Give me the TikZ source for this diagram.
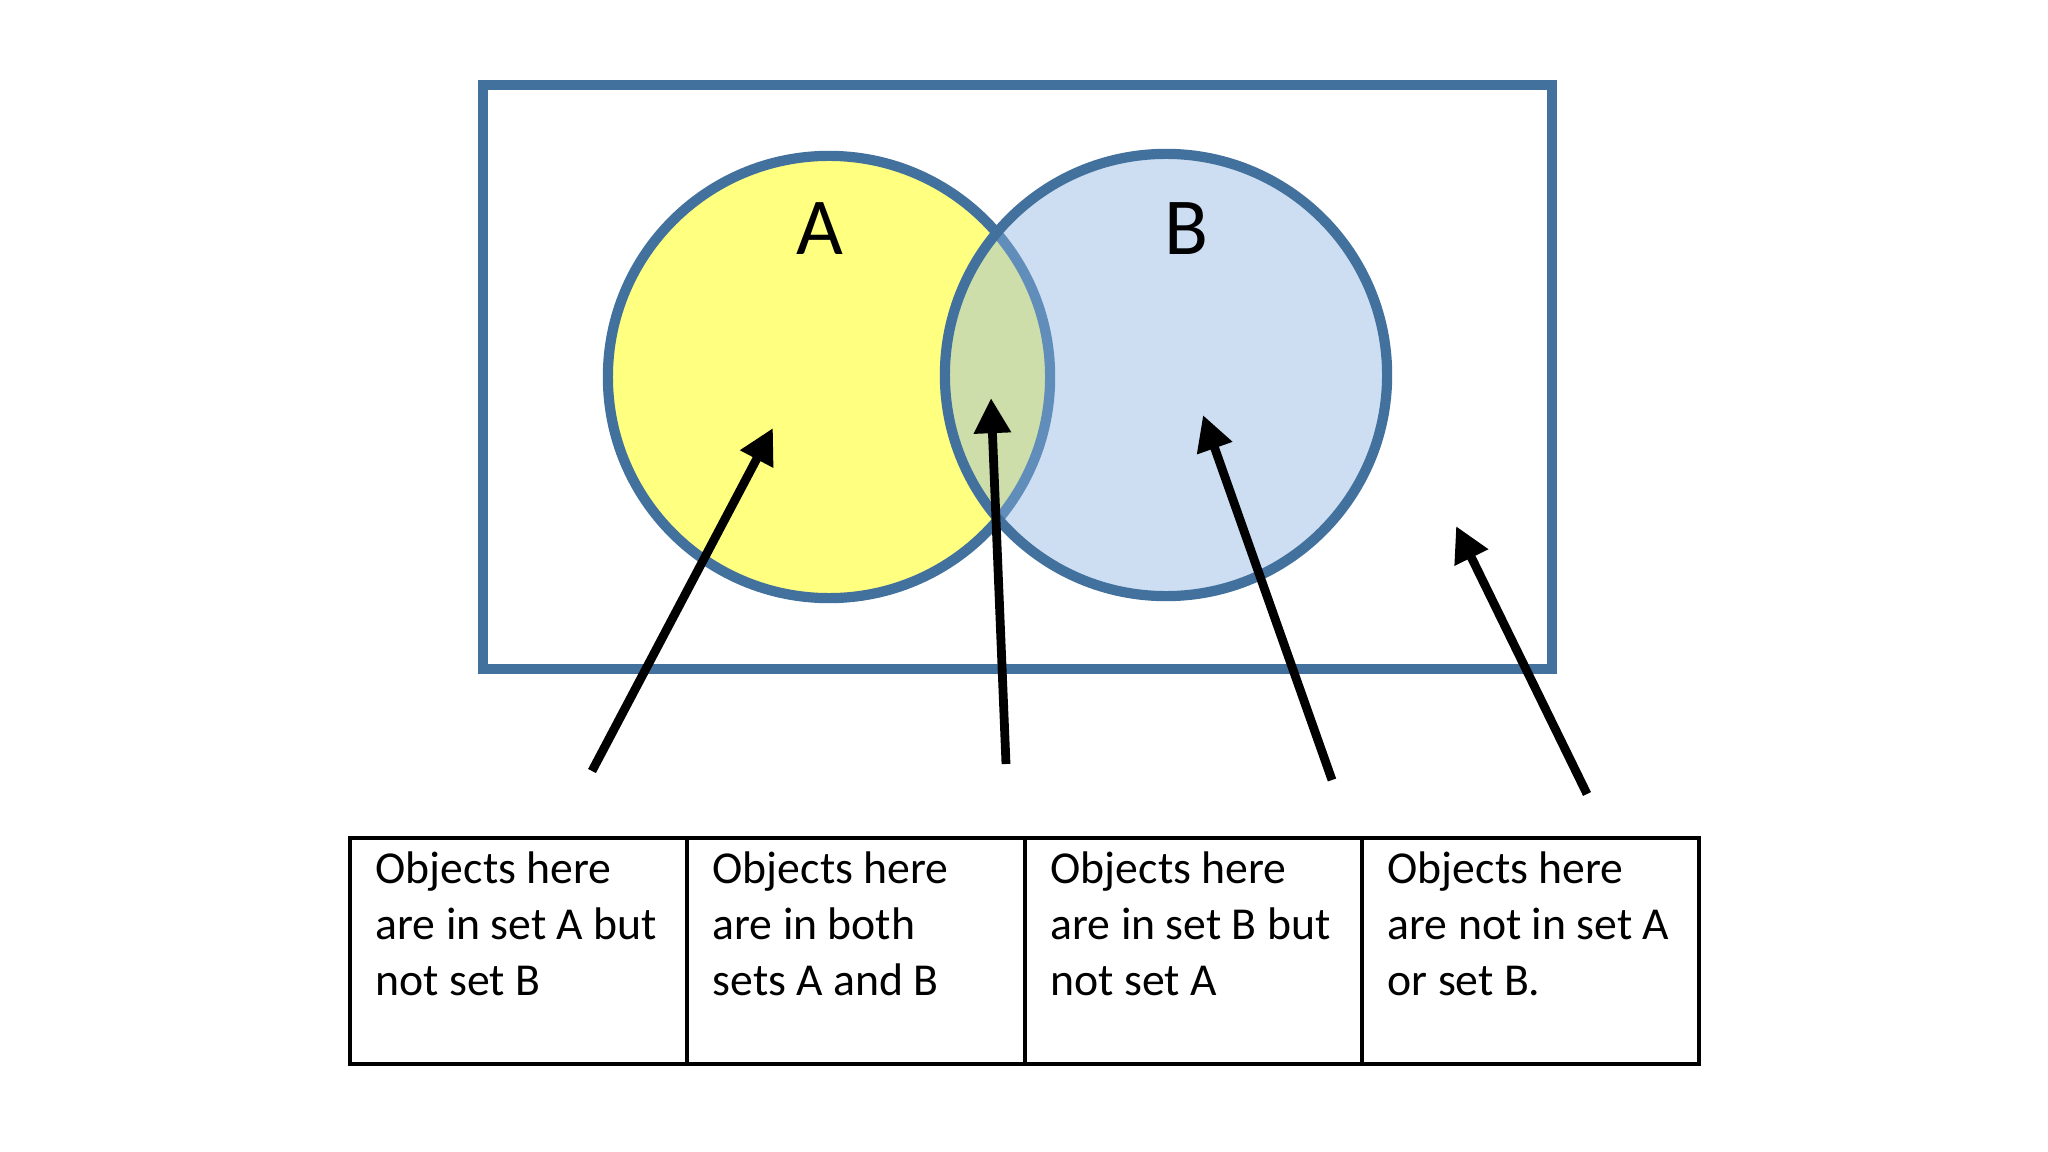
\documentclass[tikz,border=0pt]{standalone}
\usepackage{fontspec}
\setmainfont{Carlito}
\usetikzlibrary{arrows.meta, positioning}
\definecolor{setblue}{HTML}{41719C}
\definecolor{setyellow}{HTML}{FFFF80}
\definecolor{setlight}{RGB}{140,180,226}

\begin{document}
\begin{tikzpicture}[x=0.01cm, y=-0.01cm,
    setcircle/.style={circle, draw=setblue, line width=2.9pt, minimum size=4.42cm, inner sep=0pt},
    setlabel/.style={font=\fontsize{23}{26}\selectfont},
    pointer/.style={-{Triangle[length=10pt, width=10pt]}, line width=2.5pt, black},
    celltext/.style={anchor=north west, inner sep=0pt, align=left, font=\fontsize{13}{15.9}\selectfont}]
  \useasboundingbox[fill=white] (0,0) rectangle (2048,1152);
  \draw[setblue, line width=3pt] (483,85) rectangle (1552,669);
  \node[setcircle, fill=setyellow] (setA) at (829,377) {};
  \node[setcircle, fill=setlight, fill opacity=0.43] (setB) at (1166,375) {};
  \node[setlabel] (labA) at (820,229) {A};
  \node[setlabel] (labB) at (1186,229) {B};
  \draw[line width=0.9pt] (350,838) rectangle (1699,1064);
  \foreach \x in {687,1025,1362}
    \draw[line width=0.9pt] (\x,838) -- (\x,1064);
  \foreach \x/\name/\txt in {375/cellA/{Objects here\\are in set A but\\not set B},
                             712/cellAB/{Objects here\\are in both\\sets A and B},
                             1050/cellB/{Objects here\\are in set B but\\not set A},
                             1387/cellN/{Objects here\\are not in set A\\or set B.}}
    \node[celltext] (\name) at (\x,851) {\txt};
  \coordinate (tailA) at (592,771);
  \coordinate (tipA) at (773,428);
  \coordinate (tailAB) at (1006,764);
  \coordinate (tipAB) at (991,398);
  \coordinate (tailB) at (1332,780);
  \coordinate (tipB) at (1203,415);
  \coordinate (tailN) at (1587,794);
  \coordinate (tipN) at (1456,526);
  \foreach \s in {A,AB,B,N}
    \draw[pointer] (tail\s) -- (tip\s);
\end{tikzpicture}
\end{document}
